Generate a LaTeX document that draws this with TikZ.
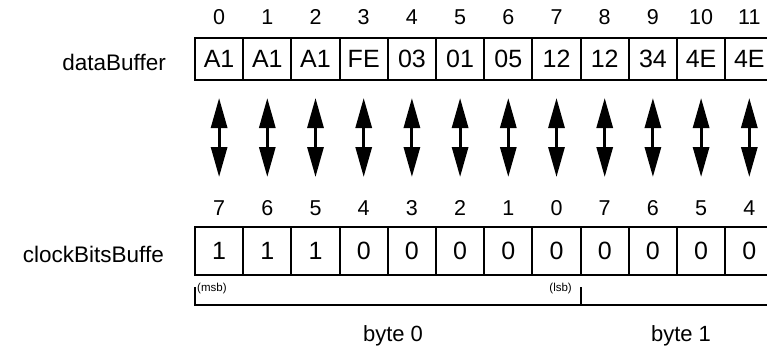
\documentclass[tikz,border=0pt]{standalone}
\usepackage{fontspec}
\setmainfont{Liberation Sans}
\usetikzlibrary{arrows.meta}
\begin{document}
\begin{tikzpicture}[x=1pt,y=-1pt,
  cell/.style={draw,line width=2pt,minimum width=48.2pt,inner sep=0pt,outer sep=0pt,font=\fontsize{25}{28}\selectfont},
  topcell/.style={cell,minimum height=42pt},
  botcell/.style={cell,minimum height=48pt},
  idx/.style={inner sep=0pt,font=\fontsize{21.5}{24}\selectfont},
  lbl/.style={inner sep=0pt,anchor=east,font=\fontsize{22.5}{26}\selectfont},
  bytelbl/.style={inner sep=0pt,font=\fontsize{22}{25}\selectfont},
  small/.style={inner sep=0pt,font=\fontsize{11.5}{13}\selectfont},
  dbl/.style={line width=3pt,{Triangle[length=30pt,width=16pt]}-{Triangle[length=30pt,width=16pt]},shorten <=18pt,shorten >=50pt},
  brk/.style={line width=2pt}]
\useasboundingbox (0,0) rectangle (767,354);
\clip (0,0) rectangle (767,354);
\foreach \v [count=\i from 0] in {A1,A1,A1,FE,03,01,05,12,12,34,4E,4E}{
  \node[topcell] (d\i) at ({195+48.2*(\i+0.5)},59) {\v};
  \node[idx] (t\i) at ({195+48.2*(\i+0.5)},17) {\i};
}
\foreach \v/\b [count=\i from 0] in {1/7,1/6,1/5,0/4,0/3,0/2,0/1,0/0,0/7,0/6,0/5,0/4}{
  \node[botcell] (c\i) at ({195+48.2*(\i+0.5)},251) {\v};
  \node[idx] (b\i) at ({195+48.2*(\i+0.5)},208) {\b};
  \draw[dbl] (d\i.south) -- (c\i.north);
}
\node[lbl] (ldata) at (166,62) {dataBuffer};
\node[lbl] (lclock) at (164,254) {clockBitsBuffe};
\coordinate (m0) at (195,287);
\coordinate (m1) at (195,305);
\coordinate (l0) at (581,287);
\coordinate (l1) at (581,305);
\coordinate (r1) at (790,305);
\draw[brk] (m0) -- (m1) -- (r1);
\draw[brk] (l0) -- (l1);
\node[small,anchor=west] (msb) at (197,289) {(msb)};
\node[small,anchor=east] (lsb) at (572,289) {(lsb)};
\node[bytelbl] (byte0) at (393,336) {byte 0};
\node[bytelbl] (byte1) at (681,336) {byte 1};
\end{tikzpicture}
\end{document}
